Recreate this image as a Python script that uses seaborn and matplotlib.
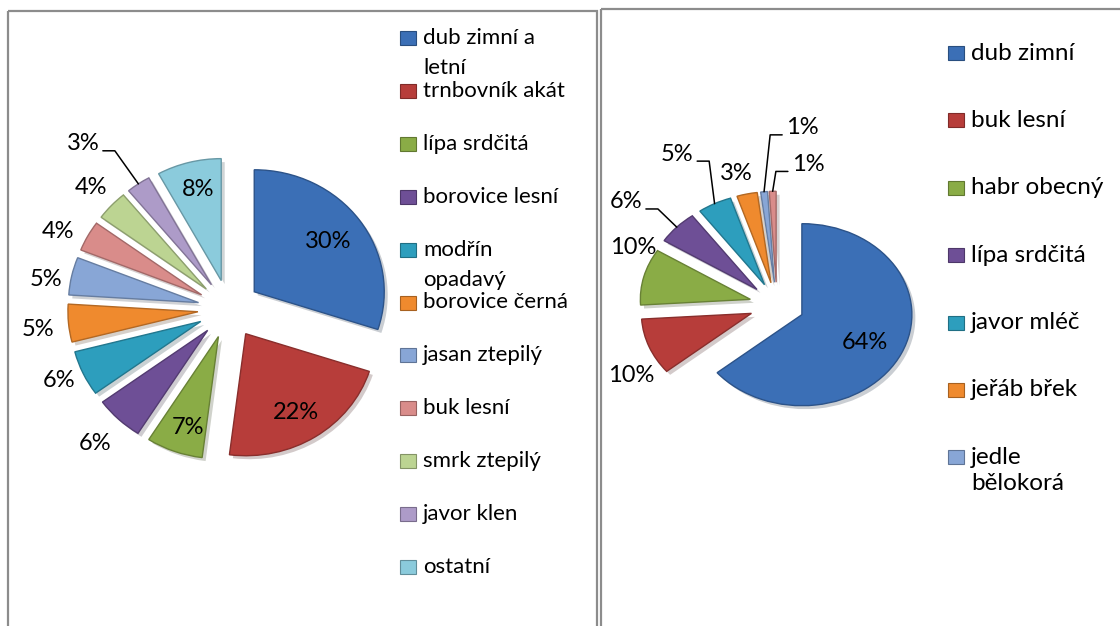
import numpy as np
import matplotlib
matplotlib.use("Agg")
import matplotlib.pyplot as plt
import matplotlib.patheffects as pe
from matplotlib.patches import Rectangle
from matplotlib.colors import to_rgb
import seaborn as sns

# data
left_names = ["dub zimní a\nletní", "trnbovník akát", "lípa srdčitá", "borovice lesní",
              "modřín\nopadavý", "borovice černá", "jasan ztepilý", "buk lesní",
              "smrk ztepilý", "javor klen", "ostatní"]
left_pct = [30, 22, 7, 6, 6, 5, 5, 4, 4, 3, 8]

# legend of the right chart is cut after 7 entries, the pie has 8 slices
right_names = ["dub zimní", "buk lesní", "habr obecný", "lípa srdčitá", "javor mléč",
               "jeřáb břek", "jedle\nbělokorá"]
right_pct = [64, 10, 10, 6, 5, 3, 1, 1]

left_colors = sns.color_palette(["#3B6FB6", "#B73D3A", "#8AAC46", "#6E4F96", "#2D9EBD",
                                 "#EF8A2E", "#88A6D6", "#D98C8A", "#BCD492", "#AD9BC8",
                                 "#8BCBDC"])
right_colors = sns.color_palette(["#3B6FB6", "#B73D3A", "#8AAC46", "#6E4F96", "#2D9EBD",
                                  "#EF8A2E", "#88A6D6", "#D98C8A"])

W, H = 1120, 626
sns.set_theme(style="white")
plt.rcParams["font.family"] = ["Lato", "DejaVu Sans"]

fig = plt.figure(figsize=(W / 100, H / 100), dpi=100)
frame = fig.add_axes([0, 0, 1, 1])
frame.set_xlim(0, W)
frame.set_ylim(H, 0)
frame.axis("off")

# panel borders
frame.add_patch(Rectangle((8, 11), 589, 640, fill=False, ec="#8c8c8c", lw=1.6))
frame.add_patch(Rectangle((601, 9), 540, 640, fill=False, ec="#8c8c8c", lw=1.6))


def darker(c, f=0.75):
    r, g, b = to_rgb(c)
    return (r * f, g * f, b * f)


def draw_pie(values, colors, cx, cy, rx, ry, explode, lab_r, lab_off, leaders, fs):
    lim = 2.4
    w, h = 2 * lim * rx, 2 * lim * ry
    ax = fig.add_axes([(cx - w / 2) / W, (H - cy - h / 2) / H, w / W, h / H])
    wedges, _ = ax.pie(values, colors=colors, startangle=90, counterclock=False,
                       explode=[explode] * len(values),
                       wedgeprops=dict(linewidth=1.0))
    ax.set_aspect("auto")
    ax.set_xlim(-lim, lim)
    ax.set_ylim(-lim, lim)
    ax.axis("off")
    for i, wd in enumerate(wedges):
        wd.set_edgecolor(darker(colors[i]))
        wd.set_path_effects([pe.SimplePatchShadow(offset=(2.5, -2.5), alpha=0.22),
                             pe.Normal()])
        mid = np.deg2rad((wd.theta1 + wd.theta2) / 2)
        a = mid - np.deg2rad(lab_off[i])
        lx, ly = lab_r[i] * np.cos(a), lab_r[i] * np.sin(a)
        ax.text(lx, ly, f"{values[i]}%", ha="center", va="center",
                fontsize=fs, color="black")
        if i in leaders:
            side = leaders[i]
            sx = lx + side * 20 / rx
            sy = ly - 7 / ry
            ex = sx + side * 12 / rx
            c0, c1 = wd.center
            tx, ty = c0 + np.cos(mid), c1 + np.sin(mid)
            ax.plot([sx, ex, tx], [sy, sy, ty], color="black", lw=1.1)
    return wedges


def draw_legend(names, colors, x0, y0, step, linestep, fs):
    for i, name in enumerate(names):
        y = y0 + i * step
        frame.add_patch(Rectangle((x0, y - 7), 16, 14, fc=colors[i],
                                  ec=darker(colors[i], 0.7), lw=0.8))
        for j, line in enumerate(name.split("\n")):
            frame.text(x0 + 23, y + j * linestep, line, ha="left", va="center",
                       fontsize=fs, color="black")


draw_pie(left_pct, left_colors, 229, 309, 130, 122, 0.24,
         lab_r=[0.94, 0.99, 1.02, 1.51, 1.43, 1.48, 1.43, 1.46, 1.46, 1.76, 1.01],
         lab_off=[0, 1, -2, 0, 1, -1, -3, -3, 0, -5.5, 1],
         leaders={9: 1}, fs=17)
draw_pie(right_pct, right_colors, 777, 305, 110, 91, 0.25,
         lab_r=[0.90, 1.53, 1.45, 1.78, 1.89, 1.49, 1.96, 1.57],
         lab_off=[2.4, -8.7, 11.2, -3.7, -1.7, -1.9, 12.1, 12.1],
         leaders={3: 1, 4: 1, 6: -1, 7: -1}, fs=17)

draw_legend(left_names, left_colors, 400, 38, 52.9, 30, 16)
draw_legend(right_names, right_colors, 948, 53, 67.4, 26, 17.5)

fig.savefig("out.png", dpi=100)
